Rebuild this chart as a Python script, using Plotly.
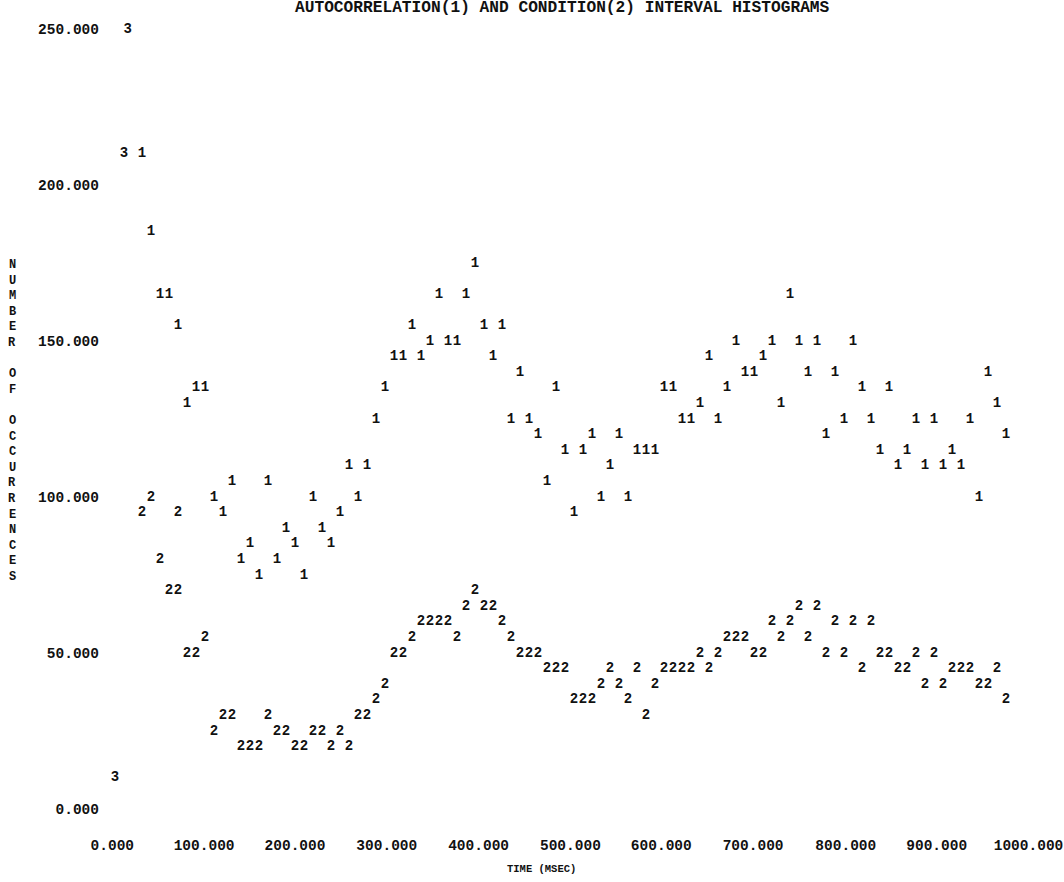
import plotly.graph_objects as go

# ---------------- data ----------------
# time bins are 10 ms wide; values are number of occurrences
t1 = list(range(30, 1000, 10))  # autocorrelation histogram, bins 30..990 ms
n1 = [210, 185, 165, 165, 155, 130, 135, 135, 100, 95,
      105, 80, 85, 75, 105, 80, 90, 85, 75, 100,
      90, 85, 95, 110, 100, 110, 125, 135, 145, 145,
      155, 145, 150, 165, 150, 150, 165, 175, 155, 145,
      155, 125, 140, 125, 120, 105, 135, 115, 95, 115,
      120, 100, 110, 120, 100, 115, 115, 115, 135, 135,
      125, 125, 130, 145, 125, 135, 150, 140, 140, 145,
      150, 130, 165, 150, 140, 150, 120, 140, 125, 150,
      135, 125, 115, 135, 110, 115, 125, 110, 125, 110,
      115, 110, 125, 100, 140, 130, 120]

t2 = list(range(30, 1000, 10)) + [70]  # condition histogram
n2 = [95, 100, 80, 70, 70, 50, 50, 55, 25, 30,
      30, 20, 20, 20, 30, 25, 25, 20, 20, 25,
      25, 20, 25, 20, 30, 30, 35, 40, 50, 50,
      55, 60, 60, 60, 60, 55, 65, 70, 65, 65,
      60, 55, 50, 50, 50, 45, 45, 45, 35, 35,
      35, 40, 45, 40, 35, 45, 30, 40, 45, 45,
      45, 45, 50, 45, 50, 55, 55, 55, 50, 50,
      60, 55, 60, 65, 55, 65, 50, 60, 50, 60,
      45, 60, 50, 50, 45, 45, 50, 40, 50, 40,
      45, 45, 45, 40, 40, 45, 35] + [95]

t3 = [0, 10, 14]      # coincident points (both histograms)
n3 = [10, 210, 250]

# printed x labels sit on a slightly wider pitch than the plotted columns
x_ticks = [-3, 99, 200, 302, 404, 506, 607, 709, 812, 913, 1015]
x_ticktext = ["0.000", "100.000", "200.000", "300.000", "400.000", "500.000",
              "600.000", "700.000", "800.000", "900.000", "1000.000"]
y_ticks = [0, 50, 100, 150, 200, 250]
y_ticktext = ["0.000", "50.000", "100.000", "150.000", "200.000", "250.000"]

TITLE = "AUTOCORRELATION(1) AND CONDITION(2) INTERVAL HISTOGRAMS"
XTITLE = "TIME (MSEC)"
YTITLE = "NUMBER OF OCCURRENCES"

# ---------------- figure ----------------
W, H = 1064, 882
L, R, T, B = 104, 4, 15, 50
FONT = "Liberation Mono"
INK = "#111111"

def pix_x(px):
    return (px - L) / (W - L - R)

def pix_y(py):
    return (H - B - py) / (H - T - B)

chars = dict(family=FONT, size=14, color=INK, weight="bold")

fig = go.Figure()
fig.add_trace(go.Scatter(x=t1, y=n1, mode="text", text=["1"] * len(t1),
                         textfont=chars, textposition="middle center",
                         name="1", showlegend=False, hoverinfo="x+y"))
fig.add_trace(go.Scatter(x=t2, y=n2, mode="text", text=["2"] * len(t2),
                         textfont=chars, textposition="middle center",
                         name="2", showlegend=False, hoverinfo="x+y"))
fig.add_trace(go.Scatter(x=t3, y=n3, mode="text", text=["3"] * len(t3),
                         textfont=chars, textposition="middle center",
                         name="3", showlegend=False, hoverinfo="x+y"))

# axis mapping: px = 115 + 0.9*ms ; py = 809 - 3.12*n
x0 = (L - 115) / 0.9
x1 = (W - R - 115) / 0.9
y1 = (809 - T) / 3.12
y0 = (809 - (H - B)) / 3.12

tickfont = dict(family=FONT, size=14.5, color=INK, weight="bold")
fig.update_xaxes(range=[x0, x1], tickvals=x_ticks, ticktext=x_ticktext,
                 showgrid=False, zeroline=False, showline=False, ticks="",
                 tickfont=tickfont, ticklabelstandoff=2, automargin=False)
fig.update_yaxes(range=[y0, y1], tickvals=y_ticks, ticktext=y_ticktext,
                 showgrid=False, zeroline=False, showline=False, ticks="",
                 tickfont=tickfont, ticklabelstandoff=4, automargin=False)

annotations = [
    dict(text=TITLE, x=pix_x(562), y=pix_y(8), xref="paper", yref="paper",
         showarrow=False, xanchor="center", yanchor="middle",
         font=dict(family=FONT, size=16.2, color=INK, weight="bold")),
    dict(text=XTITLE, x=pix_x(541), y=pix_y(869), xref="paper", yref="paper",
         showarrow=False, xanchor="center", yanchor="middle",
         font=dict(family=FONT, size=10.5, color=INK, weight="bold")),
]
# vertical, letter-per-line y-axis title (one printer line per letter)
yt_font = dict(family=FONT, size=12, color=INK, weight="bold")
row = 0
for word in YTITLE.split(" "):
    for ch in word:
        annotations.append(dict(text=ch, x=pix_x(12), y=pix_y(265 + 15.6 * row),
                                xref="paper", yref="paper", showarrow=False,
                                xanchor="center", yanchor="middle", font=yt_font))
        row += 1
    row += 1

fig.update_layout(
    width=W, height=H,
    margin=dict(l=L, r=R, t=T, b=B, pad=0),
    paper_bgcolor="white", plot_bgcolor="white",
    annotations=annotations,
    showlegend=False,
)

fig.write_html("out.html", config={"displayModeBar": False},
               post_script="document.body.style.margin='0px';")
